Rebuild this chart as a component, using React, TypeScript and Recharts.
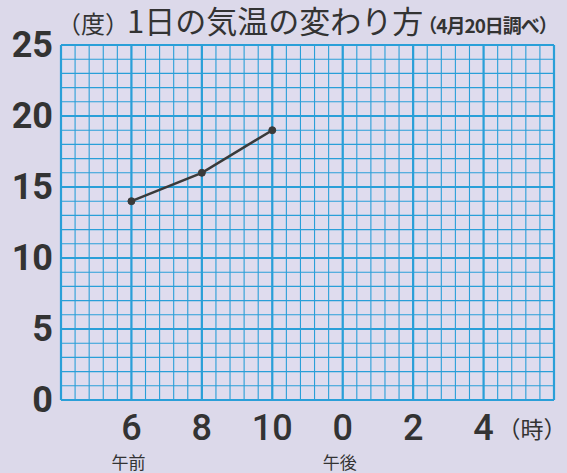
import React from "react"
import { LineChart, Line, XAxis, YAxis, CartesianGrid } from "recharts"

// 4月20日 の気温（時刻は24時間表記）
const hours = [6, 8, 10]
const temps = [14, 16, 19]

const xTicks = [6, 8, 10, 12, 14, 16]
const yTicks = [0, 5, 10, 15, 20, 25]
const xTickLabels = ["6", "8", "10", "0", "2", "4"]
const ampmLabels: Record<number, string> = { 6: "午前", 12: "午後" }

const data = hours.map((h, i) => ({ hour: h, temp: temps[i] }))

// 方眼: 横は1マス24分、縦は1マス1度
const minorV = Array.from({ length: 36 }, (_, i) => Math.round((4 + i * 0.4) * 10) / 10)
const minorH = Array.from({ length: 26 }, (_, i) => i)
const majorV = [4, 6, 8, 10, 12, 14, 16, 18]
const majorH = yTicks

const BG = "#dcd9ea"
const GRID = "#2a9fd8"
const INK = "#333333"
const JP = "'Noto Sans CJK JP', sans-serif"

function XTick(props: any) {
  const { x, y, payload } = props
  const i = xTicks.indexOf(payload.value)
  const sub = ampmLabels[payload.value]
  return (
    <g>
      <text
        x={x}
        y={y + 28}
        textAnchor="middle"
        dominantBaseline="central"
        fontFamily="Roboto, 'Noto Sans', sans-serif"
        fontWeight={500}
        fontSize={36}
        fill={INK}
      >
        {xTickLabels[i]}
      </text>
      {sub && (
        <text x={x - 3} y={y + 61} textAnchor="middle" dominantBaseline="central" fontFamily={JP} fontSize={17} fill={INK}>
          {sub}
        </text>
      )}
      {payload.value === 16 && (
        <text x={x + 14} y={y + 28} dominantBaseline="central" fontFamily={JP} fontSize={23} fill={INK}>
          （時）
        </text>
      )}
    </g>
  )
}

function YTick(props: any) {
  const { x, y, payload } = props
  return (
    <text
      x={x - 8}
      y={y}
      textAnchor="end"
      dominantBaseline="central"
      fontFamily="Roboto, 'Noto Sans', sans-serif"
      fontWeight={700}
      fontSize={36}
      fill={INK}
    >
      {payload.value}
    </text>
  )
}

export default function App() {
  return (
    <div style={{ position: "absolute", left: 0, top: 0, width: 567, height: 473, background: BG, overflow: "hidden" }}>
      <svg width={567} height={44} style={{ position: "absolute", left: 0, top: 0 }}>
        <text x={57} y={33} fontFamily={JP} fill={INK}>
          <tspan fontSize={24}>（度）</tspan>
          <tspan fontSize={31} dx={-2}>1日の気温の変わり方</tspan>
          <tspan fontSize={19} fontWeight={700} letterSpacing={-1} dx={-5}>（4月20日調べ）</tspan>
        </text>
      </svg>
      <LineChart
        width={567}
        height={473}
        data={data}
        margin={{ top: 45, right: 13, bottom: 0, left: 0 }}
        style={{ position: "absolute", left: 0, top: 0 }}
      >
        <CartesianGrid horizontalValues={minorH} verticalValues={minorV} stroke={GRID} strokeWidth={1.1} fill="#dfdcee" />
        <CartesianGrid horizontalValues={majorH} verticalValues={majorV} stroke={GRID} strokeWidth={2.2} />
        <XAxis
          dataKey="hour"
          type="number"
          domain={[4, 18]}
          ticks={xTicks}
          axisLine={false}
          tickLine={false}
          tickSize={0}
          tickMargin={0}
          interval={0}
          tick={<XTick />}
          height={73}
        />
        <YAxis
          type="number"
          domain={[0, 25]}
          ticks={yTicks}
          axisLine={false}
          tickLine={false}
          tickSize={0}
          tickMargin={0}
          interval={0}
          width={61}
          tick={<YTick />}
        />
        <Line
          dataKey="temp"
          stroke="#3a3a3a"
          strokeWidth={2.5}
          dot={{ r: 3.5, fill: "#3a3a3a", stroke: "#3a3a3a", strokeWidth: 1 }}
          isAnimationActive={false}
        />
      </LineChart>
    </div>
  )
}
